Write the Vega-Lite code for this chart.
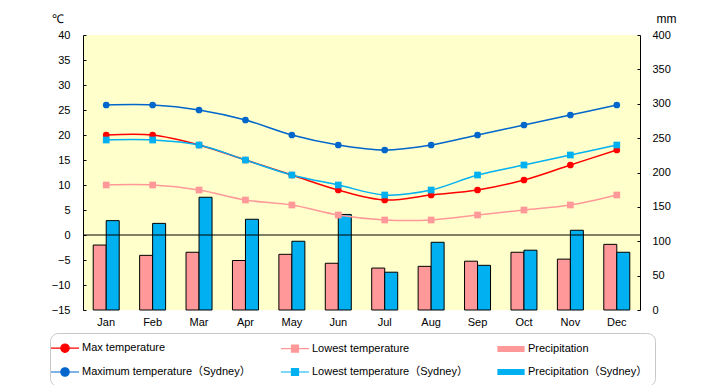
{
  "$schema": "https://vega.github.io/schema/vega-lite/v6.json",
  "width": 557,
  "height": 275,
  "autosize": {"type": "none"},
  "padding": {"left": 83, "top": 35, "right": 80, "bottom": 75},
  "background": "white",
  "config": {
    "view": {"fill": "#ffffcc", "stroke": null},
    "font": "Liberation Sans",
    "axis": {"labelFont": "Liberation Sans", "labelFontSize": 11, "labelColor": "black", "domainColor": "black", "tickColor": "black", "grid": false, "titleFont": "Liberation Sans", "titleFontWeight": "normal", "titleColor": "black", "labelOverlap": false, "labelFlush": false},
    "legend": {
      "orient": "none", "legendX": -33, "legendY": 298, "columns": 3, "columnPadding": 27, "rowPadding": 9,
      "padding": 7, "strokeColor": "#c8c8c8", "cornerRadius": 8,
      "labelFont": "Liberation Sans, Noto Sans CJK JP", "labelFontSize": 11, "labelColor": "black", "labelOffset": 9, "labelLimit": 300,
      "symbolSize": 196, "symbolStrokeWidth": 1.2, "symbolOpacity": 1
    }
  },
  "datasets": {
    "temps": [
      {"month": "Jan", "series": "Max temperature", "value": 20},
      {"month": "Feb", "series": "Max temperature", "value": 20},
      {"month": "Mar", "series": "Max temperature", "value": 18},
      {"month": "Apr", "series": "Max temperature", "value": 15},
      {"month": "May", "series": "Max temperature", "value": 12},
      {"month": "Jun", "series": "Max temperature", "value": 9},
      {"month": "Jul", "series": "Max temperature", "value": 7},
      {"month": "Aug", "series": "Max temperature", "value": 8},
      {"month": "Sep", "series": "Max temperature", "value": 9},
      {"month": "Oct", "series": "Max temperature", "value": 11},
      {"month": "Nov", "series": "Max temperature", "value": 14},
      {"month": "Dec", "series": "Max temperature", "value": 17},
      {"month": "Jan", "series": "Lowest temperature", "value": 10},
      {"month": "Feb", "series": "Lowest temperature", "value": 10},
      {"month": "Mar", "series": "Lowest temperature", "value": 9},
      {"month": "Apr", "series": "Lowest temperature", "value": 7},
      {"month": "May", "series": "Lowest temperature", "value": 6},
      {"month": "Jun", "series": "Lowest temperature", "value": 4},
      {"month": "Jul", "series": "Lowest temperature", "value": 3},
      {"month": "Aug", "series": "Lowest temperature", "value": 3},
      {"month": "Sep", "series": "Lowest temperature", "value": 4},
      {"month": "Oct", "series": "Lowest temperature", "value": 5},
      {"month": "Nov", "series": "Lowest temperature", "value": 6},
      {"month": "Dec", "series": "Lowest temperature", "value": 8},
      {"month": "Jan", "series": "Maximum temperature（Sydney）", "value": 26},
      {"month": "Feb", "series": "Maximum temperature（Sydney）", "value": 26},
      {"month": "Mar", "series": "Maximum temperature（Sydney）", "value": 25},
      {"month": "Apr", "series": "Maximum temperature（Sydney）", "value": 23},
      {"month": "May", "series": "Maximum temperature（Sydney）", "value": 20},
      {"month": "Jun", "series": "Maximum temperature（Sydney）", "value": 18},
      {"month": "Jul", "series": "Maximum temperature（Sydney）", "value": 17},
      {"month": "Aug", "series": "Maximum temperature（Sydney）", "value": 18},
      {"month": "Sep", "series": "Maximum temperature（Sydney）", "value": 20},
      {"month": "Oct", "series": "Maximum temperature（Sydney）", "value": 22},
      {"month": "Nov", "series": "Maximum temperature（Sydney）", "value": 24},
      {"month": "Dec", "series": "Maximum temperature（Sydney）", "value": 26},
      {"month": "Jan", "series": "Lowest temperature（Sydney）", "value": 19},
      {"month": "Feb", "series": "Lowest temperature（Sydney）", "value": 19},
      {"month": "Mar", "series": "Lowest temperature（Sydney）", "value": 18},
      {"month": "Apr", "series": "Lowest temperature（Sydney）", "value": 15},
      {"month": "May", "series": "Lowest temperature（Sydney）", "value": 12},
      {"month": "Jun", "series": "Lowest temperature（Sydney）", "value": 10},
      {"month": "Jul", "series": "Lowest temperature（Sydney）", "value": 8},
      {"month": "Aug", "series": "Lowest temperature（Sydney）", "value": 9},
      {"month": "Sep", "series": "Lowest temperature（Sydney）", "value": 12},
      {"month": "Oct", "series": "Lowest temperature（Sydney）", "value": 14},
      {"month": "Nov", "series": "Lowest temperature（Sydney）", "value": 16},
      {"month": "Dec", "series": "Lowest temperature（Sydney）", "value": 18}
    ],
    "precip": [
      {"month": "Jan", "series": "Precipitation", "value": 94.5},
      {"month": "Feb", "series": "Precipitation", "value": 79.5},
      {"month": "Mar", "series": "Precipitation", "value": 84},
      {"month": "Apr", "series": "Precipitation", "value": 72},
      {"month": "May", "series": "Precipitation", "value": 81},
      {"month": "Jun", "series": "Precipitation", "value": 68},
      {"month": "Jul", "series": "Precipitation", "value": 61},
      {"month": "Aug", "series": "Precipitation", "value": 63.5},
      {"month": "Sep", "series": "Precipitation", "value": 71},
      {"month": "Oct", "series": "Precipitation", "value": 84},
      {"month": "Nov", "series": "Precipitation", "value": 74},
      {"month": "Dec", "series": "Precipitation", "value": 95.5},
      {"month": "Jan", "series": "Precipitation（Sydney）", "value": 130},
      {"month": "Feb", "series": "Precipitation（Sydney）", "value": 126},
      {"month": "Mar", "series": "Precipitation（Sydney）", "value": 164},
      {"month": "Apr", "series": "Precipitation（Sydney）", "value": 132},
      {"month": "May", "series": "Precipitation（Sydney）", "value": 100},
      {"month": "Jun", "series": "Precipitation（Sydney）", "value": 139},
      {"month": "Jul", "series": "Precipitation（Sydney）", "value": 55},
      {"month": "Aug", "series": "Precipitation（Sydney）", "value": 98.5},
      {"month": "Sep", "series": "Precipitation（Sydney）", "value": 65},
      {"month": "Oct", "series": "Precipitation（Sydney）", "value": 87},
      {"month": "Nov", "series": "Precipitation（Sydney）", "value": 116},
      {"month": "Dec", "series": "Precipitation（Sydney）", "value": 84}
    ],
    "legendEntries": [
      {"series": "Max temperature"},
      {"series": "Maximum temperature（Sydney）"},
      {"series": "Lowest temperature"},
      {"series": "Lowest temperature（Sydney）"},
      {"series": "Precipitation"},
      {"series": "Precipitation（Sydney）"}
    ]
  },
  "resolve": {"scale": {"y": "independent"}, "axis": {"y": "independent"}},
  "layer": [
    {
      "data": {"name": "legendEntries"},
      "mark": {"type": "point", "filled": true, "opacity": 0, "size": 196, "strokeWidth": 1.2},
      "encoding": {
        "color": {"field": "series", "type": "nominal",
          "scale": {"domain": ["Max temperature","Maximum temperature（Sydney）","Lowest temperature","Lowest temperature（Sydney）","Precipitation","Precipitation（Sydney）"],
                    "range": ["#ff0000","#0066cc","#ff9999","#00b0f0","#ff9999","#00b0f0"]},
          "legend": {"title": null}},
        "shape": {"field": "series", "type": "nominal",
          "scale": {"domain": ["Max temperature","Maximum temperature（Sydney）","Lowest temperature","Lowest temperature（Sydney）","Precipitation","Precipitation（Sydney）"],
                    "range": ["M-2,0H2M-0.6,0A0.6,0.6,0,1,1,0.6,0A0.6,0.6,0,1,1,-0.6,0Z", "M-2,0H2M-0.6,0A0.6,0.6,0,1,1,0.6,0A0.6,0.6,0,1,1,-0.6,0Z", "M-2,0H2M-0.5,-0.5H0.5V0.5H-0.5Z", "M-2,0H2M-0.5,-0.5H0.5V0.5H-0.5Z", "M-1.86,-0.36H1.86V0.36H-1.86Z", "M-1.86,-0.36H1.86V0.36H-1.86Z"]},
          "legend": {"title": null}},
        "stroke": {"field": "series", "type": "nominal",
          "scale": {"domain": ["Max temperature","Maximum temperature（Sydney）","Lowest temperature","Lowest temperature（Sydney）","Precipitation","Precipitation（Sydney）"],
                    "range": ["#ff0000","#0066cc","#ff9999","#00b0f0","#000000","#000000"]},
          "legend": {"title": null}}
      }
    },
    {
      "data": {"name": "precip"},
      "mark": {"type": "bar", "stroke": "black", "strokeWidth": 1},
      "encoding": {
        "x": {"field": "month", "type": "nominal", "sort": ["Jan","Feb","Mar","Apr","May","Jun","Jul","Aug","Sep","Oct","Nov","Dec"],
              "scale": {"paddingInner": 0.44, "paddingOuter": 0.22},
              "axis": {"orient": "bottom", "title": null, "domain": false, "ticks": false, "labelPadding": 6, "labelAngle": 0}},
        "xOffset": {"field": "series", "type": "nominal", "scale": {"domain": ["Precipitation", "Precipitation（Sydney）"], "paddingInner": 0, "paddingOuter": 0}},
        "y": {"field": "value", "type": "quantitative", "scale": {"domain": [0, 400], "nice": false},
              "axis": {"orient": "right", "values": [0,50,100,150,200,250,300,350,400], "labelOverlap": false, "tickSize": -3, "labelPadding": 15, "title": "mm", "titleAngle": 0, "titleX": 26, "titleY": -17, "titleAlign": "center", "titleBaseline": "middle", "titleFontSize": 12}},
        "color": {"field": "series", "type": "nominal", "legend": null}
      }
    },
    {
      "layer": [
        {
          "data": {"values": [{"zero": 0}]},
          "mark": {"type": "rule", "color": "black", "strokeWidth": 1},
          "encoding": {"y": {"field": "zero", "type": "quantitative", "scale": {"domain": [-15, 40], "nice": false},
                  "axis": {"orient": "left", "values": [-15,-10,-5,0,5,10,15,20,25,30,35,40], "labelOverlap": false, "tickSize": -3, "labelPadding": 16, "title": "℃", "titleAngle": 0, "titleX": -26, "titleY": -17, "titleAlign": "center", "titleBaseline": "middle", "titleFontSize": 12}}}
        },
        {
          "data": {"name": "temps"},
          "mark": {"type": "line", "interpolate": "catmull-rom", "strokeWidth": 1.5},
          "encoding": {
            "x": {"field": "month", "type": "nominal", "sort": ["Jan","Feb","Mar","Apr","May","Jun","Jul","Aug","Sep","Oct","Nov","Dec"]},
            "y": {"field": "value", "type": "quantitative", "scale": {"domain": [-15, 40], "nice": false},
                  "axis": {"orient": "left", "values": [-15,-10,-5,0,5,10,15,20,25,30,35,40], "labelOverlap": false, "tickSize": -3, "labelPadding": 16, "title": "℃", "titleAngle": 0, "titleX": -26, "titleY": -17, "titleAlign": "center", "titleBaseline": "middle", "titleFontSize": 12}},
            "color": {"field": "series", "type": "nominal", "legend": null},
            "detail": {"field": "series"}
          }
        },
        {
          "data": {"name": "temps"},
          "transform": [{"filter": {"field": "series", "oneOf": ["Max temperature", "Maximum temperature（Sydney）"]}}],
          "mark": {"type": "circle", "opacity": 1, "size": 45},
          "encoding": {
            "x": {"field": "month", "type": "nominal", "sort": ["Jan","Feb","Mar","Apr","May","Jun","Jul","Aug","Sep","Oct","Nov","Dec"]},
            "y": {"field": "value", "type": "quantitative", "scale": {"domain": [-15, 40], "nice": false},
                  "axis": {"orient": "left", "values": [-15,-10,-5,0,5,10,15,20,25,30,35,40], "labelOverlap": false, "tickSize": -3, "labelPadding": 16, "title": "℃", "titleAngle": 0, "titleX": -26, "titleY": -17, "titleAlign": "center", "titleBaseline": "middle", "titleFontSize": 12}},
            "color": {"field": "series", "type": "nominal", "legend": null}
          }
        },
        {
          "data": {"name": "temps"},
          "transform": [{"filter": {"field": "series", "oneOf": ["Lowest temperature", "Lowest temperature（Sydney）"]}}],
          "mark": {"type": "square", "opacity": 1, "size": 45},
          "encoding": {
            "x": {"field": "month", "type": "nominal", "sort": ["Jan","Feb","Mar","Apr","May","Jun","Jul","Aug","Sep","Oct","Nov","Dec"]},
            "y": {"field": "value", "type": "quantitative", "scale": {"domain": [-15, 40], "nice": false},
                  "axis": {"orient": "left", "values": [-15,-10,-5,0,5,10,15,20,25,30,35,40], "labelOverlap": false, "tickSize": -3, "labelPadding": 16, "title": "℃", "titleAngle": 0, "titleX": -26, "titleY": -17, "titleAlign": "center", "titleBaseline": "middle", "titleFontSize": 12}},
            "color": {"field": "series", "type": "nominal", "legend": null}
          }
        }
      ]
    }
  ]
}
